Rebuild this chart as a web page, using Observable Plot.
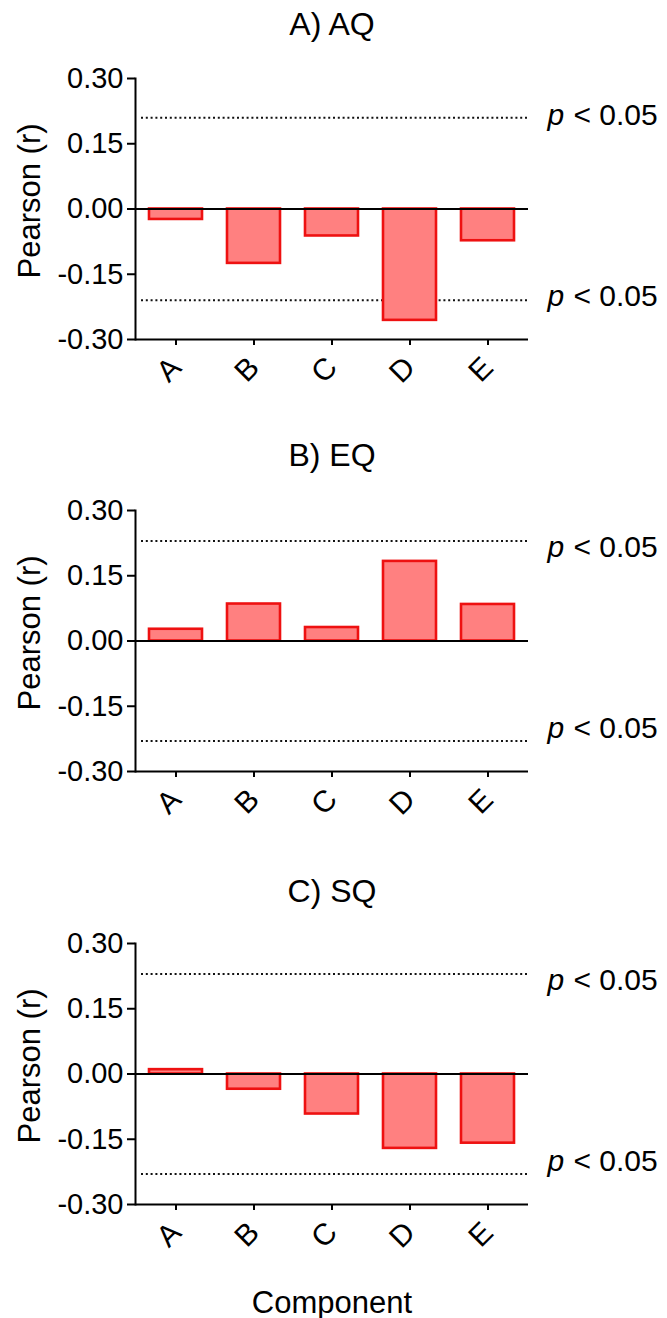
<!DOCTYPE html>
<html>
<head>
<meta charset="utf-8">
<script src="https://cdn.jsdelivr.net/npm/d3@7"></script>
<script src="https://cdn.jsdelivr.net/npm/@observablehq/plot@0.6"></script>
<style>
  body { margin: 0; background: #ffffff; }
  #chart svg { display: block; }
</style>
</head>
<body>
<div id="chart"></div>
<script>
// ---- data ----
const components = ["A", "B", "C", "D", "E"];
const aqValues = [-0.024, -0.125, -0.062, -0.256, -0.073];
const eqValues = [0.027, 0.085, 0.031, 0.183, 0.084];
const sqValues = [0.010, -0.035, -0.092, -0.171, -0.159];
const panelTitles = ["A) AQ", "B) EQ", "C) SQ"];
const thresholds = [0.21, 0.23, 0.23];
const yTicks = [-0.30, -0.15, 0.00, 0.15, 0.30];
const sigLabelY = [0.216, -0.200];
const sigItalic = "p";
const sigRest = "< 0.05";
const xLabel = "Component";
const yLabel = "Pearson (r)";

// ---- layout ----
const FONT = "'Liberation Sans', Arial, Helvetica, sans-serif";
const panels = [
  {values: aqValues, title: panelTitles[0], thr: thresholds[0], height: 430, mt: 78, mb: 91, titleDy: -44, showX: false},
  {values: eqValues, title: panelTitles[1], thr: thresholds[1], height: 430, mt: 80, mb: 89, titleDy: -45, showX: false},
  {values: sqValues, title: panelTitles[2], thr: thresholds[2], height: 458, mt: 83, mb: 114, titleDy: -42, showX: true}
];

const container = document.getElementById("chart");

for (const p of panels) {
  const rows = components.map((c, i) => ({component: c, r: p.values[i]}));
  const marks = [
    Plot.ruleY([p.thr, -p.thr], {stroke: "#111", strokeWidth: 2, strokeDasharray: "2 2.8", insetLeft: 6}),
    Plot.barY(rows, {x: "component", y: "r", fill: "#ff8080", stroke: "#ee1111", strokeWidth: 2.6}),
    Plot.ruleY([0], {stroke: "#000", strokeWidth: 2}),
    Plot.ruleY([-0.30], {stroke: "#000", strokeWidth: 2}),
    Plot.frame({anchor: "left", stroke: "#000", strokeWidth: 2}),
    Plot.axisY({ticks: yTicks, tickFormat: d => d.toFixed(2), tickSize: 8, tickPadding: 4, fontSize: 29, strokeWidth: 2, label: null}),
    Plot.axisX({tickSize: 6, tickPadding: 17, tickRotate: -45, fontSize: 30, strokeWidth: 2, label: null}),
    Plot.text([p.title], {frameAnchor: "top", textAnchor: "middle", lineAnchor: "bottom", dy: p.titleDy, fontSize: 32, text: d => d}),
    Plot.text([yLabel], {frameAnchor: "left", textAnchor: "middle", lineAnchor: "middle", rotate: -90, dx: -105, dy: -8, fontSize: 31, text: d => d}),
    Plot.text(sigLabelY, {y: d => d, text: () => sigItalic, frameAnchor: "right", textAnchor: "start", dx: 19, fontSize: 30, fontStyle: "italic"}),
    Plot.text(sigLabelY, {y: d => d, text: () => sigRest, frameAnchor: "right", textAnchor: "start", dx: 45, fontSize: 30})
  ];
  if (p.showX) {
    marks.push(Plot.text([xLabel], {frameAnchor: "bottom", textAnchor: "middle", lineAnchor: "bottom", dy: 108, fontSize: 31, text: d => d}));
  }
  const chart = Plot.plot({
    width: 667,
    height: p.height,
    marginLeft: 135,
    marginRight: 139,
    marginTop: p.mt,
    marginBottom: p.mb,
    style: {fontFamily: FONT, fontSize: "28px", color: "#000", background: "#fff", overflow: "visible"},
    x: {domain: components, paddingInner: 0.32, paddingOuter: 0.16, align: 0.5, axis: null},
    y: {domain: [-0.30, 0.30], axis: null},
    marks
  });
  container.appendChild(chart);
}
</script>
</body>
</html>
